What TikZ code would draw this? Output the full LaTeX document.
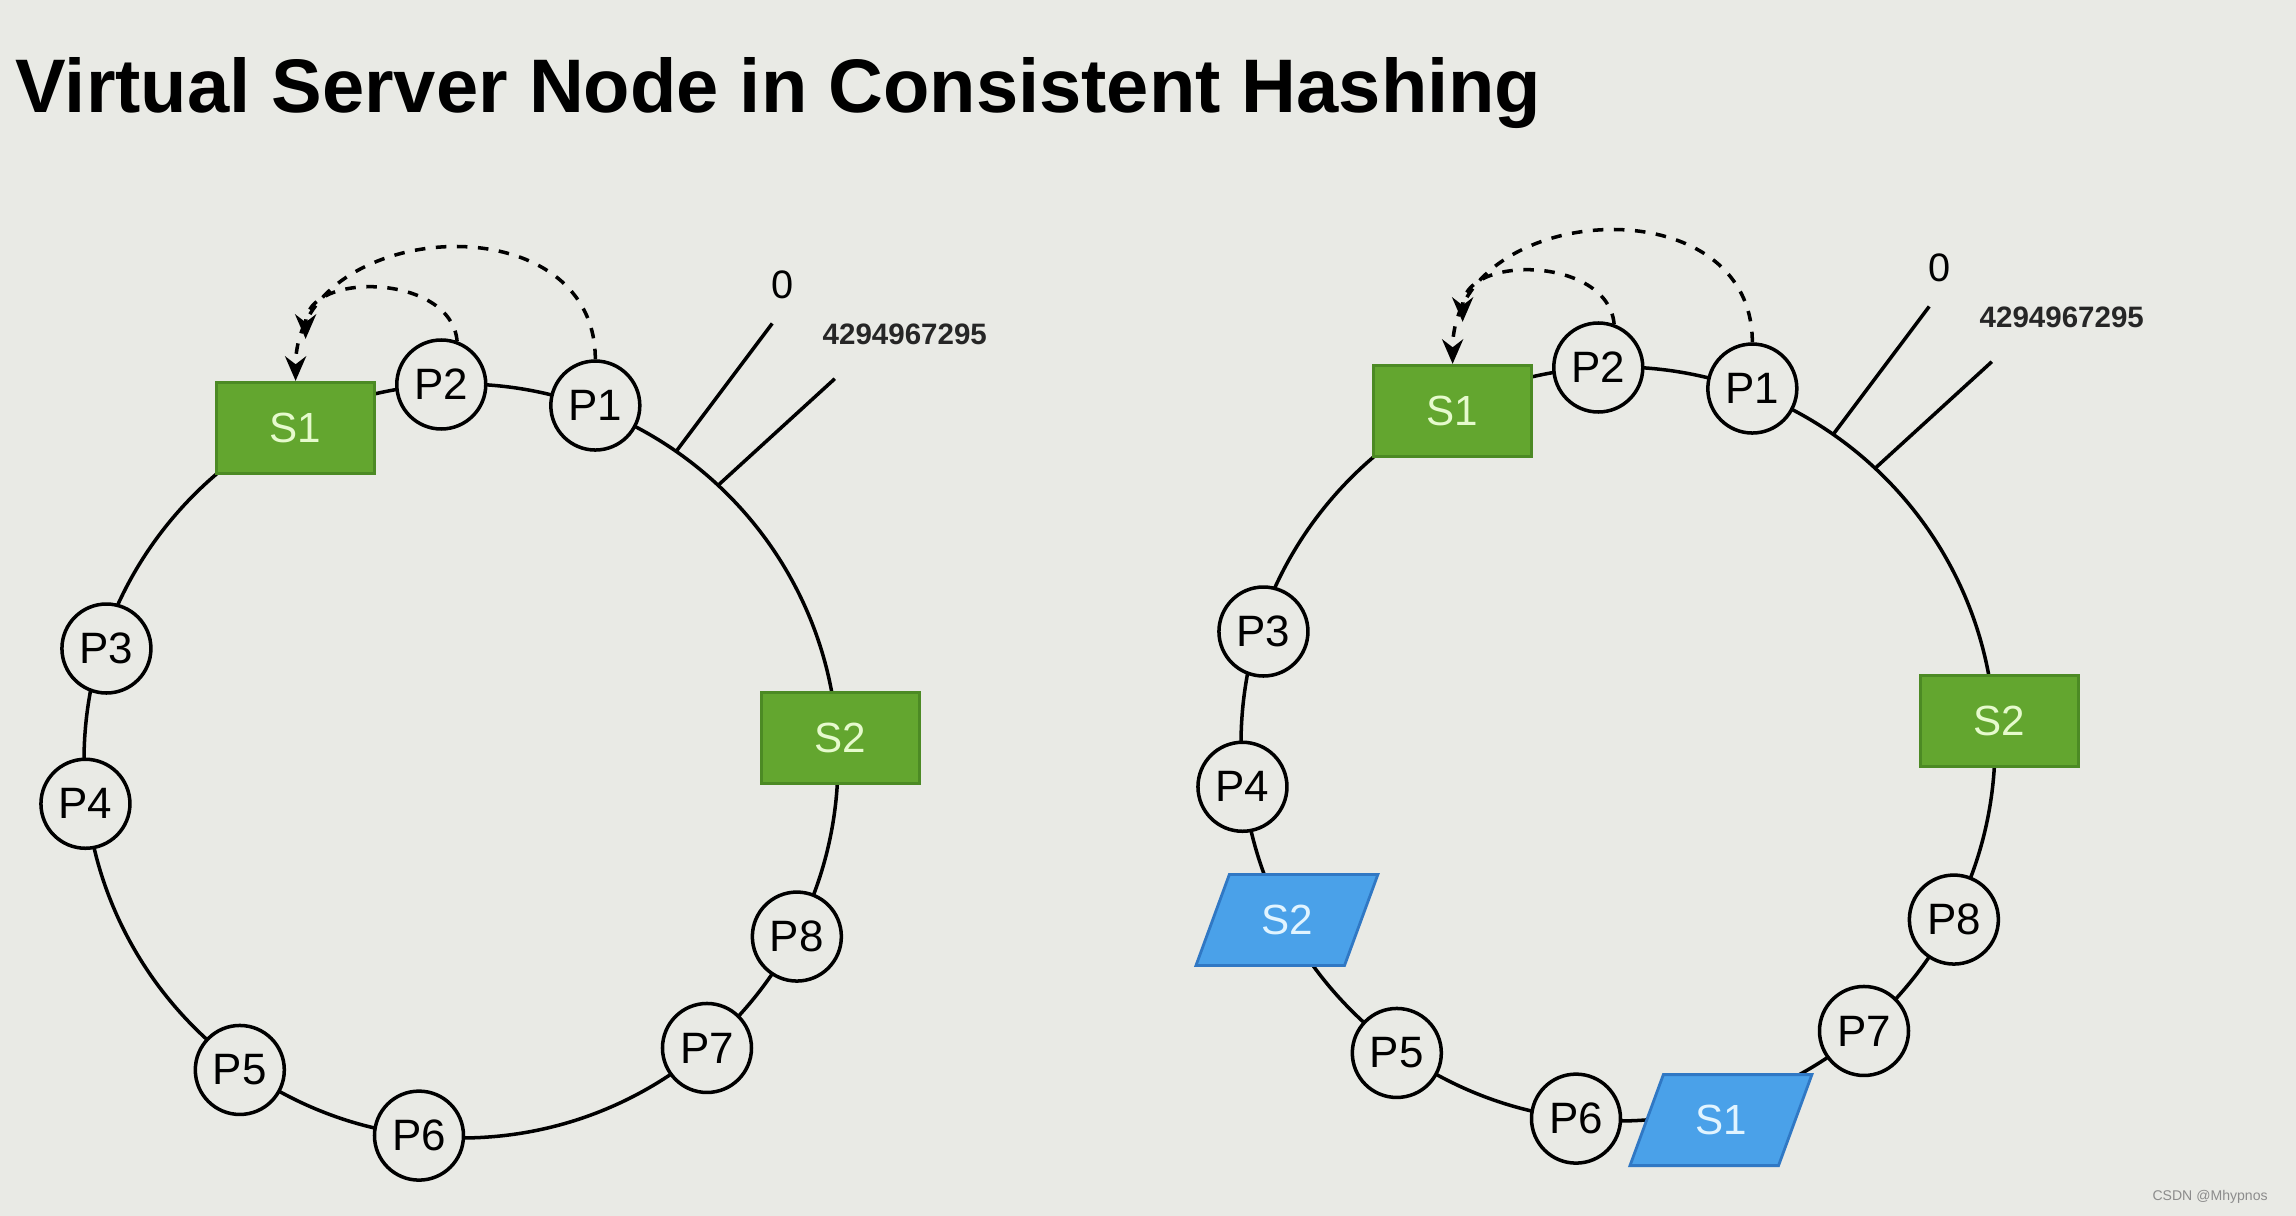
\documentclass[tikz,border=0pt]{standalone}
\usepackage{fontspec}
\setmainfont{Liberation Sans}
\usetikzlibrary{arrows.meta,calc,shapes.geometric}
\definecolor{bg}{RGB}{233,234,229}
\definecolor{srvgreen}{RGB}{99,166,47}
\definecolor{srvedge}{RGB}{76,138,36}
\definecolor{srvtext}{RGB}{230,250,205}
\definecolor{vblue}{RGB}{74,161,233}
\definecolor{vedge}{RGB}{48,120,196}
\definecolor{vtext}{RGB}{225,244,255}

\tikzset{
  ring/.style={line width=1pt},
  part/.style={circle,draw=black,line width=1pt,fill=bg,minimum size=0.89cm,inner sep=0pt,font=\fontsize{12.5}{14}\selectfont},
  server/.style={rectangle,draw=srvedge,line width=0.8pt,fill=srvgreen,text=srvtext,minimum width=1.58cm,minimum height=0.91cm,inner sep=0pt,font=\fontsize{12}{14}\selectfont},
  vserver/.style={trapezium,trapezium left angle=63.4,trapezium right angle=116.6,trapezium stretches=true,draw=vedge,line width=0.8pt,fill=vblue,text=vtext,minimum width=1.82cm,minimum height=0.91cm,inner sep=0pt,font=\fontsize{12}{14}\selectfont},
  hop/.style={-{Stealth[length=7pt,width=6pt]},dashed,line width=1pt},
  hashlbl/.style={font=\fontsize{8.4}{10}\selectfont\bfseries,text=black!85},
}

\begin{document}
\begin{tikzpicture}
  \fill[bg] (0,0) rectangle (22.96,12.16);
  \useasboundingbox (0,0) rectangle (22.96,12.16);
  \node[anchor=base west,inner sep=0pt,font=\fontsize{21.6}{26}\selectfont\bfseries] (title) at (0.15,11.03) {Virtual Server Node in Consistent Hashing};

  % left ring
  \coordinate (L) at (4.61,4.55);
  \draw[ring] (L) circle (3.77);
  \draw[ring] ($(L)+(55.2:3.77)$) -- +(53.1:1.6) coordinate (lzero);
  \draw[ring] ($(L)+(47:3.77)$) -- +(42.4:1.58) coordinate (lmax);
  \node[font=\fontsize{11.3}{13}\selectfont] (lzerotxt) at ($(lzero)+(0.1,0.39)$) {0};
  \node[hashlbl] (lmaxtxt) at ($(lmax)+(0.7,0.44)$) {4294967295};
  \node[server] (lS1) at ($(L)+(116.4:3.72)$) {S1};
  \node[part] (lP2) at ($(L)+(93:3.77)$) {P2};
  \node[part] (lP1) at ($(L)+(69.3:3.8)$) {P1};
  \node[part] (lP3) at ($(L)+(162.4:3.72)$) {P3};
  \node[part] (lP4) at ($(L)+(186.5:3.78)$) {P4};
  \node[part] (lP5) at ($(L)+(234.4:3.8)$) {P5};
  \node[part] (lP6) at ($(L)+(263.6:3.77)$) {P6};
  \node[part] (lP7) at ($(L)+(310.6:3.78)$) {P7};
  \node[part] (lP8) at ($(L)+(332.4:3.79)$) {P8};
  \node[server] (lS2) at ($(L)+(3.5:3.8)$) {S2};
  \coordinate (lhop) at ($(lS1.north)+(0.1,0.42)$);
  \draw[hop] (lP2.70) to[out=95,in=90,looseness=1.15] (lhop);
  \draw[hop] (lP1.north) to[out=90,in=90,looseness=1.38] (lS1.north);

  % right ring, with virtual nodes
  \coordinate (R) at (16.18,4.72);
  \draw[ring] (R) circle (3.77);
  \draw[ring] ($(R)+(55.2:3.77)$) -- +(53.1:1.6) coordinate (rzero);
  \draw[ring] ($(R)+(47:3.77)$) -- +(42.4:1.58) coordinate (rmax);
  \node[font=\fontsize{11.3}{13}\selectfont] (rzerotxt) at ($(rzero)+(0.1,0.39)$) {0};
  \node[hashlbl] (rmaxtxt) at ($(rmax)+(0.7,0.44)$) {4294967295};
  \node[server] (rS1) at ($(R)+(116.4:3.72)$) {S1};
  \node[part] (rP2) at ($(R)+(93:3.77)$) {P2};
  \node[part] (rP1) at ($(R)+(69.3:3.8)$) {P1};
  \node[part] (rP3) at ($(R)+(162.4:3.72)$) {P3};
  \node[part] (rP4) at ($(R)+(186.5:3.78)$) {P4};
  \node[vserver] (rS2v) at ($(R)+(208:3.75)$) {S2};
  \node[part] (rP5) at ($(R)+(234.4:3.8)$) {P5};
  \node[part] (rP6) at ($(R)+(263.6:3.77)$) {P6};
  \node[vserver] (rS1v) at ($(R)+(285.3:3.9)$) {S1};
  \node[part] (rP7) at ($(R)+(310.6:3.78)$) {P7};
  \node[part] (rP8) at ($(R)+(332.4:3.79)$) {P8};
  \node[server] (rS2) at ($(R)+(3.5:3.82)$) {S2};
  \coordinate (rhop) at ($(rS1.north)+(0.1,0.42)$);
  \draw[hop] (rP2.70) to[out=95,in=90,looseness=1.15] (rhop);
  \draw[hop] (rP1.north) to[out=90,in=90,looseness=1.38] (rS1.north);

  \node[anchor=base east,font=\fontsize{4}{5}\selectfont,text=black!45] (mark) at (22.8,0.15) {CSDN @Mhypnos};
\end{tikzpicture}
\end{document}
